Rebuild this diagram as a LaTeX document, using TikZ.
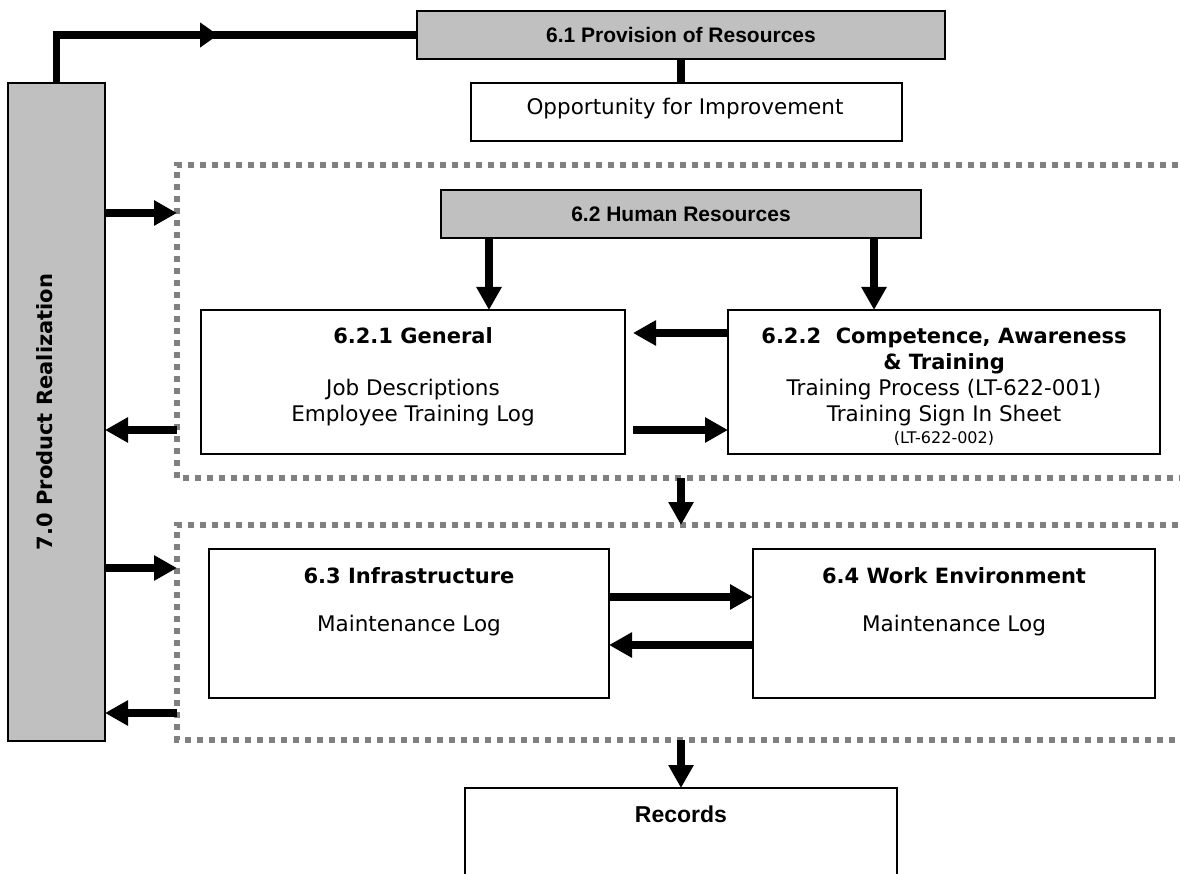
\documentclass[tikz,border=0pt]{standalone}
\usepackage{fontspec}
\setmainfont{DejaVu Sans}
\newfontfamily\arialfont{Liberation Sans}
\usetikzlibrary{arrows.meta, decorations.markings}
\definecolor{boxgray}{RGB}{192,192,192}
\definecolor{framegray}{RGB}{128,128,128}
% fixed first-line height so text blocks can be placed by their first baseline
\newcommand\lnstrut{\rule{0pt}{18pt}}

\begin{document}
\begin{tikzpicture}[x=1pt, y=-1pt,
  box/.style={draw=black, line width=2pt, fill=white, inner sep=0pt, outer sep=0pt},
  graybox/.style={box, fill=boxgray},
  groupframe/.style={inner sep=0pt, outer sep=0pt},
  dotline/.style={draw=framegray, line width=5.5pt, dash pattern=on 6pt off 6pt},
  txt/.style={font=\fontsize{21.5}{26}\selectfont, inner sep=0pt, align=center},
  hdfont/.style={font=\fontsize{21}{26}\selectfont\bfseries},
  arhd/.style={font=\arialfont\bfseries\fontsize{21}{26}\selectfont, inner sep=0pt},
  conn/.style={draw=black, line width=7.5pt},
  arr/.style={conn, -{Triangle[length=23pt, width=24pt]}},
]

\useasboundingbox (0,0) rectangle (1180,874);
\clip (0,0) rectangle (1180,874);

% dotted group frames, open on the right
\node[groupframe, minimum width=1013pt, minimum height=313pt, anchor=north west] (hrframe) at (177,165) {};
\node[groupframe, minimum width=1013pt, minimum height=215pt, anchor=north west] (infframe) at (177,525) {};
\draw[dotline] (hrframe.north east) -- (hrframe.north west) -- (hrframe.south west) -- (hrframe.south east);
\draw[dotline] (infframe.north east) -- (infframe.north west) -- (infframe.south west) -- (infframe.south east);

% 7.0 side bar
\node[graybox, minimum width=97pt, minimum height=658pt] (pr) at (56.5,412) {};
\node[hdfont, rotate=90, anchor=base, inner sep=0pt] (prlabel) at (52,412) {7.0 Product Realization};

% 6.1
\node[graybox, arhd, minimum width=528pt, minimum height=48pt] (res) at (681,35) {6.1 Provision of Resources};
\node[box, minimum width=431pt, minimum height=58pt] (opp) at (686.5,112) {};
\node[txt, anchor=base] (oppt) at (685,115) {Opportunity for Improvement};

% 6.2
\node[graybox, arhd, minimum width=480pt, minimum height=48pt] (hr) at (681,214) {6.2 Human Resources};
\node[box, minimum width=424pt, minimum height=144pt] (gen) at (413,382) {};
\node[txt, anchor=north] (gent) at (413,325) {{\fontsize{21}{26}\selectfont\bfseries\lnstrut 6.2.1 General}\\[26pt] Job Descriptions\\ Employee Training Log};
\node[box, minimum width=432pt, minimum height=144pt] (comp) at (944,382) {};
\node[txt, anchor=north] (compt) at (944,325) {{\fontsize{21}{26}\selectfont\bfseries\lnstrut 6.2.2~~Competence, Awareness}\\ {\fontsize{21}{26}\selectfont\bfseries \& Training}\\ Training Process (LT-622-001)\\ Training Sign In Sheet\\[-4pt] {\fontsize{16}{18}\selectfont (LT-622-002)}};

% 6.3 / 6.4
\node[box, minimum width=400pt, minimum height=149pt] (inf) at (409,623.5) {};
\node[txt, anchor=north] (inft) at (409,565) {{\fontsize{21}{26}\selectfont\bfseries\lnstrut 6.3 Infrastructure}\\[22pt] Maintenance Log};
\node[box, minimum width=402pt, minimum height=149pt] (work) at (954,623.5) {};
\node[txt, anchor=north] (workt) at (954,565) {{\fontsize{21}{26}\selectfont\bfseries\lnstrut 6.4 Work Environment}\\[22pt] Maintenance Log};

% records
\node[box, minimum width=432pt, minimum height=120pt, anchor=north] (rec) at (681,788) {};
\node[arhd, font=\arialfont\bfseries\fontsize{23}{26}\selectfont, anchor=base] (rect) at (681,822) {Records};

% connector levels
\coordinate (ya) at (0,213);
\coordinate (yb) at (0,430);
\coordinate (yc) at (0,568);
\coordinate (yd) at (0,713);
\coordinate (yu) at (0,333);
\coordinate (ye) at (0,597);
\coordinate (yf) at (0,645);
\coordinate (xa) at (489,0);
\coordinate (xb) at (874,0);
\coordinate (xg) at (633,0);

% side bar exchanges
\draw[arr] (pr.east |- ya) -- (hrframe.west |- ya);
\draw[arr] (hrframe.west |- yb) -- (pr.east |- yb);
\draw[arr] (pr.east |- yc) -- (infframe.west |- yc);
\draw[arr] (infframe.west |- yd) -- (pr.east |- yd);

% inside 6.2
\draw[arr] (hr.south -| xa) -- (gen.north -| xa);
\draw[arr] (hr.south -| xb) -- (comp.north -| xb);
\draw[arr] (comp.west |- yu) -- (xg |- yu);
\draw[arr] (xg |- yb) -- (comp.west |- yb);

% inside 6.3 / 6.4
\draw[arr] (inf.east |- ye) -- (work.west |- ye);
\draw[arr] (work.west |- yf) -- (inf.east |- yf);

% downward flow
\draw[arr] (rec.north |- hrframe.south) -- (rec.north |- infframe.north);
\draw[arr] (rec.north |- infframe.south) -- (rec.north);

% top links
\draw[conn] (res.south) -- (opp.north -| res.south);
\draw[conn, postaction={decorate}, decoration={markings, mark=at position 209.5pt with {\arrow{Triangle[length=18pt,width=24pt]}}}] (pr.north) |- (res.west);

\end{tikzpicture}
\end{document}
